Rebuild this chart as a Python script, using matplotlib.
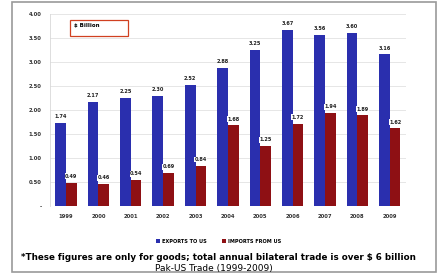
import matplotlib
matplotlib.use("Agg")
import matplotlib.pyplot as plt
from matplotlib.patches import Rectangle
import numpy as np

years = ["1999", "2000", "2001", "2002", "2003", "2004", "2005", "2006", "2007", "2008", "2009"]
exports = [1.74, 2.17, 2.25, 2.30, 2.52, 2.88, 3.25, 3.67, 3.56, 3.60, 3.16]
imports = [0.49, 0.46, 0.54, 0.69, 0.84, 1.68, 1.25, 1.72, 1.94, 1.89, 1.62]
yticks = [0, 0.5, 1.0, 1.5, 2.0, 2.5, 3.0, 3.5, 4.0]
ytick_labels = ["-", "0.50", "1.00", "1.50", "2.00", "2.50", "3.00", "3.50", "4.00"]

blue = "#2a2fae"
red = "#8e1014"

fig = plt.figure(figsize=(4.37, 2.77), dpi=100)
fig.patches.append(Rectangle((12 / 437, 5 / 277), 424 / 437, 270 / 277,
                             transform=fig.transFigure, fill=False,
                             edgecolor="#9a9a9a", linewidth=1.2))
ax = fig.add_axes([0.114, 0.256, 0.815, 0.693])

x = np.arange(len(years))
w = 0.33
ax.bar(x - w / 2, exports, w, color=blue, label="EXPORTS TO US")
ax.bar(x + w / 2, imports, w, color=red, label="IMPORTS FROM US")

for i in range(len(years)):
    ax.text(x[i] - w / 2, exports[i] + 0.08, f"{exports[i]:.2f}", ha="center", va="bottom",
            fontsize=3.6, fontweight="bold", color="#222222")
    ax.text(x[i] + w / 2, imports[i] + 0.08, f"{imports[i]:.2f}", ha="center", va="bottom",
            fontsize=3.6, fontweight="bold", color="#222222",
            bbox=dict(facecolor="white", edgecolor="none", pad=0.3))

ax.set_xlim(-0.5, len(years) - 0.5)
ax.set_ylim(0, 4.0)
ax.set_yticks(yticks)
ax.set_yticklabels(ytick_labels, fontsize=3.8, fontweight="bold", color="#333333")
ax.set_xticks(x)
ax.set_xticklabels(years, fontsize=3.8, fontweight="bold", color="#333333")
ax.tick_params(length=0, pad=6)
ax.yaxis.grid(True, color="#e2e2e2", linewidth=0.6)
ax.set_axisbelow(True)
for s in ax.spines.values():
    s.set_visible(False)
ax.spines["left"].set_visible(True)
ax.spines["left"].set_color("#d8d8d8")
ax.spines["left"].set_linewidth(0.6)

# unit box
ax.add_patch(Rectangle((0.056, 0.885), 0.164, 0.084, transform=ax.transAxes,
                       facecolor="white", edgecolor="#d04020", linewidth=0.9, zorder=5))
ax.text(0.068, 0.94, "$ Billion", transform=ax.transAxes, ha="left", va="center",
        fontsize=4, fontweight="bold", zorder=6)

fig.legend(loc="center", bbox_to_anchor=(0.5, 0.128), ncol=2, frameon=False,
           prop={"size": 3.6, "weight": "bold"}, handlelength=0.8, handleheight=0.8,
           columnspacing=3.0, handletextpad=0.4)

fig.text(0.5, 0.072, "*These figures are only for goods; total annual bilateral trade is over $ 6 billion",
         ha="center", va="center", fontsize=6.3, fontweight="bold")
fig.text(0.49, 0.03, "Pak-US Trade (1999-2009)", ha="center", va="center", fontsize=6.5)

fig.savefig("out.png", dpi=100)
